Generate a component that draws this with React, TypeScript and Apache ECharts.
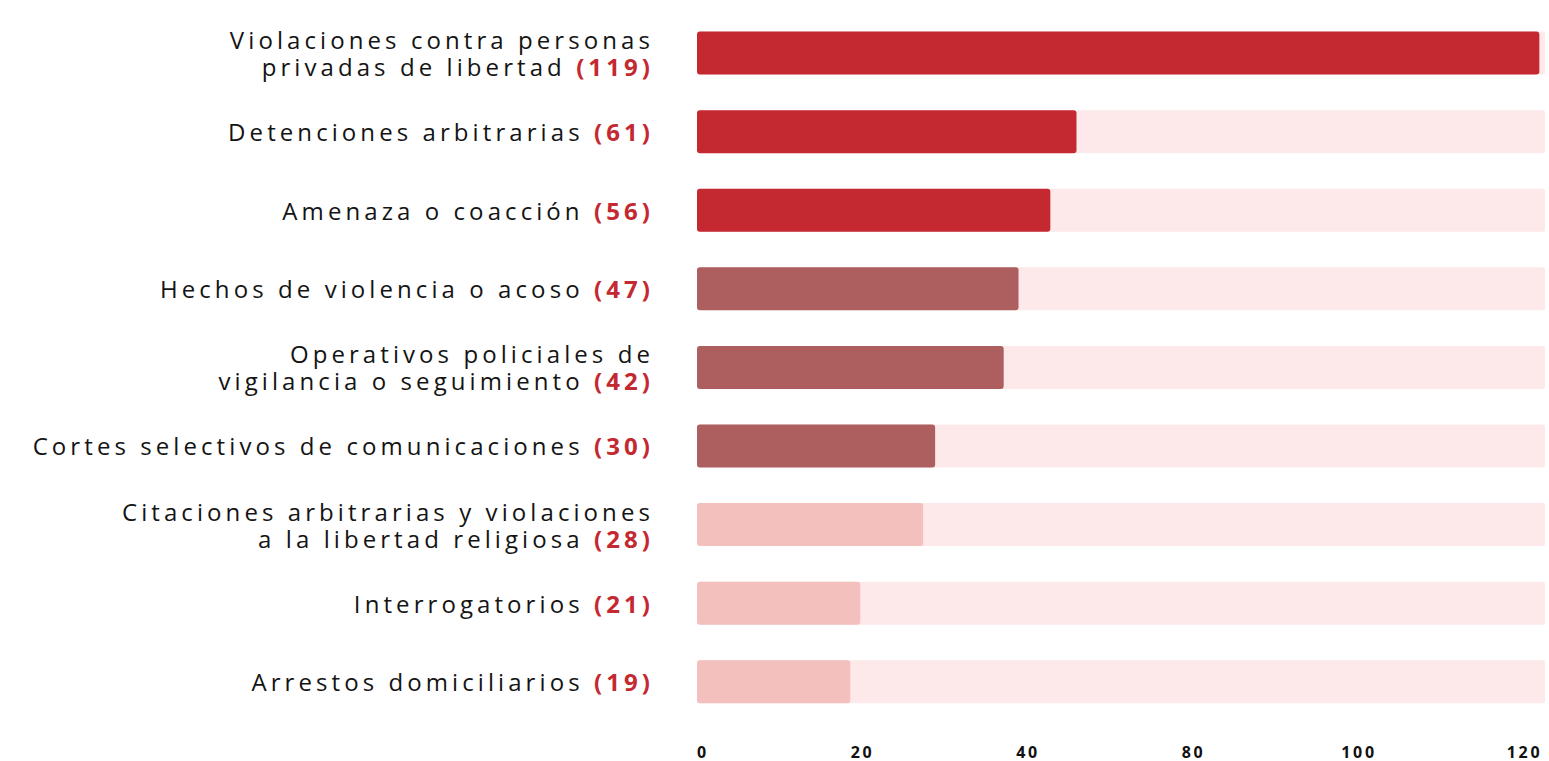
import React, { useEffect, useRef } from "react";
import * as echarts from "echarts";

// ---- data ----
const categories = [
  "Violaciones contra personas\nprivadas de libertad",
  "Detenciones arbitrarias",
  "Amenaza o coacción",
  "Hechos de violencia o acoso",
  "Operativos policiales de\nvigilancia o seguimiento",
  "Cortes selectivos de comunicaciones",
  "Citaciones arbitrarias y violaciones\na la libertad religiosa",
  "Interrogatorios",
  "Arrestos domiciliarios",
];
// counts printed in the labels
const counts = [119, 61, 56, 47, 42, 30, 28, 21, 19];
// bar lengths as drawn against the 0–120 scale
const barLengths = [119.2, 53.7, 50, 45.5, 43.4, 33.7, 32, 23.1, 21.7];
// colour tier of each bar
const tiers = [0, 0, 0, 1, 1, 1, 2, 2, 2];
const tierColors = ["#C42831", "#AD5F60", "#F3C0BE"];
const tickLabels = ["0", "20", "40", "80", "100", "120"];

const FONT = "'Open Sans', 'Noto Sans', sans-serif";
const SPACING_EM = 0.17;

// text measurement that accounts for the CSS letter-spacing applied to the SVG text
let measureCtx: CanvasRenderingContext2D | null = null;
function spacedMeasure(text: string, font?: string): any {
  if (!measureCtx) {
    const c = document.createElement("canvas");
    measureCtx = c.getContext("2d");
  }
  const f = font || "12px sans-serif";
  const mm = /(\d+(?:\.\d+)?)px/.exec(f);
  const size = mm ? parseFloat(mm[1]) : 12;
  const n = Array.from(text || "").length;
  if (!measureCtx) {
    return { width: n * size * (0.6 + SPACING_EM) };
  }
  measureCtx.font = f;
  const m = measureCtx.measureText(text);
  return {
    width: m.width + n * size * SPACING_EM,
    actualBoundingBoxAscent: m.actualBoundingBoxAscent,
    actualBoundingBoxDescent: m.actualBoundingBoxDescent,
    actualBoundingBoxLeft: m.actualBoundingBoxLeft,
    actualBoundingBoxRight: m.actualBoundingBoxRight + n * size * SPACING_EM,
  };
}
if (typeof (echarts as any).setPlatformAPI === "function") {
  (echarts as any).setPlatformAPI({ measureText: spacedMeasure });
}

export default function App() {
  const ref = useRef<HTMLDivElement>(null);

  useEffect(() => {
    if (!ref.current) return;
    const chart = echarts.init(ref.current, undefined, { renderer: "svg" });

    const option: any = {
      animation: false,
      grid: [
        { left: 697, right: 4, top: 13.8, bottom: 40, containLabel: false, outerBoundsMode: "none" },
        { left: 697, right: 24.5, top: 700, bottom: 23, containLabel: false, outerBoundsMode: "none" },
      ],
      xAxis: [
        { type: "value", gridIndex: 0, min: 0, max: 120, show: false },
        {
          type: "category",
          gridIndex: 1,
          data: tickLabels,
          boundaryGap: false,
          axisLine: { show: false },
          axisTick: { show: false },
          splitLine: { show: false },
          axisLabel: {
            interval: 0,
            margin: 5.5,
            fontSize: 16,
            lineHeight: 16,
            fontWeight: "bold",
            fontFamily: FONT,
            color: "#111111",
            alignMinLabel: "left",
          },
        },
      ],
      yAxis: [
        {
          type: "category",
          gridIndex: 0,
          inverse: true,
          data: categories,
          axisLine: { show: false },
          axisTick: { show: false },
          splitLine: { show: false },
          axisLabel: {
            interval: 0,
            margin: 43,
            fontSize: 24,
            lineHeight: 27,
            color: "#141414",
            fontFamily: FONT,
            align: "right",
            formatter: (v: string, i: number) => `${v} {c|(${counts[i]})}`,
            rich: {
              c: {
                fontSize: 24,
                lineHeight: 27,
                fontWeight: "bold",
                color: "#C42831",
                fontFamily: FONT,
              },
            },
          },
        },
        { type: "value", gridIndex: 1, show: false },
      ],
      series: [
        {
          type: "bar",
          xAxisIndex: 0,
          yAxisIndex: 0,
          barWidth: 43,
          showBackground: true,
          backgroundStyle: { color: "#FDE9E9", borderRadius: 2 },
          itemStyle: { borderRadius: 3 },
          data: barLengths.map((v, i) => ({
            value: v,
            itemStyle: { color: tierColors[tiers[i]] },
          })),
        },
      ],
    };

    chart.setOption(option);
    return () => chart.dispose();
  }, []);

  return (
    <>
      <style>{`.spaced-chart text, .spaced-chart tspan { letter-spacing: ${SPACING_EM}em; }`}</style>
      <div
        ref={ref}
        className="spaced-chart"
        style={{ position: "absolute", left: 0, top: 0, width: 1549, height: 761, background: "#ffffff" }}
      />
    </>
  );
}
